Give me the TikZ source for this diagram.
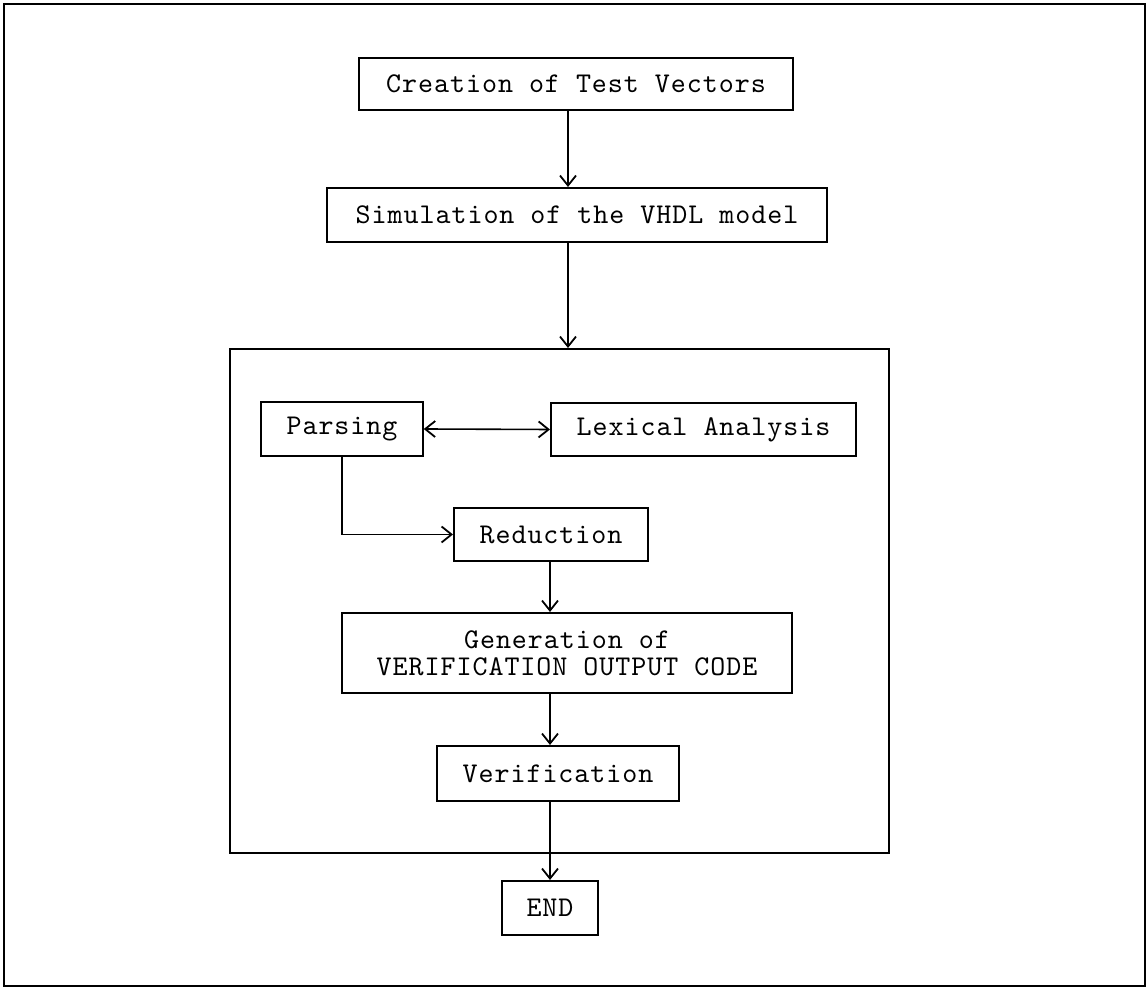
\documentclass[tikz,border=0pt]{standalone}
\usepackage{fontspec}
\newfontfamily\boxfont[LetterSpace=3.4]{lmmono10-regular.otf}
\usepackage{tikz}
\usetikzlibrary{arrows.meta,positioning,calc}
\tikzset{
block/.style = {draw, line width=1pt, fill=white, rectangle, align=center, inner sep=0pt,
  font=\boxfont\fontsize{14.3}{13.5}\selectfont},
frame/.style = {draw, line width=1pt, rectangle},
link/.style = {line width=0.8pt},
}

\begin{document}
\begin{tikzpicture}[x=0.5pt, y=-0.5pt, >={Straight Barb[length=5pt,width=8pt,line width=0.9pt]}]
    \useasboundingbox (0,0) rectangle (1148,988);
    \draw [frame] (4,4) rectangle (1145,986);

    \node [block, minimum width=217pt, minimum height=26pt] (create) at (576,84) {Creation of Test Vectors};
    \node [block, minimum width=250pt, minimum height=27pt] (sim) at (577,215) {Simulation of the VHDL model};

    \node [frame, minimum width=329.5pt, minimum height=252pt] (core) at (559.5,601) {};

    \node [block, minimum width=80.75pt, minimum height=27pt] (parse) at (342,429) {Parsing};
    \node [block, minimum width=152.5pt, minimum height=26.5pt] (lex) at (703.5,429.5) {Lexical Analysis};
    \node [block, minimum width=97pt, minimum height=26.5pt] (reduce) at (551,534.5) {Reduction};
    \node [block, minimum width=225pt, minimum height=40pt] (gen) at (567,653)
       {Generation of\\VERIFICATION OUTPUT CODE};
    \node [block, minimum width=121pt, minimum height=27.5pt] (verify) at (558,773.5) {Verification};
    \node [block, minimum width=48pt, minimum height=27pt] (end) at (550,908) {END};

    \coordinate (spine1) at (568,0);
    \coordinate (spine2) at (550,0);

    \draw [link,->] (create.south -| spine1) -- (sim.north -| spine1);
    \draw [link,->] (sim.south -| spine1) -- (core.north -| spine1);

    \draw [link,<->] (parse.east) -- (lex.west);
    \draw [link,->] (parse.south) |- (reduce.west);
    \draw [link,->] (reduce.south -| spine2) -- (gen.north -| spine2);
    \draw [link,->] (gen.south -| spine2) -- (verify.north -| spine2);
    \draw [link,->] (verify.south -| spine2) -- (end.north);
\end{tikzpicture}
\end{document}
